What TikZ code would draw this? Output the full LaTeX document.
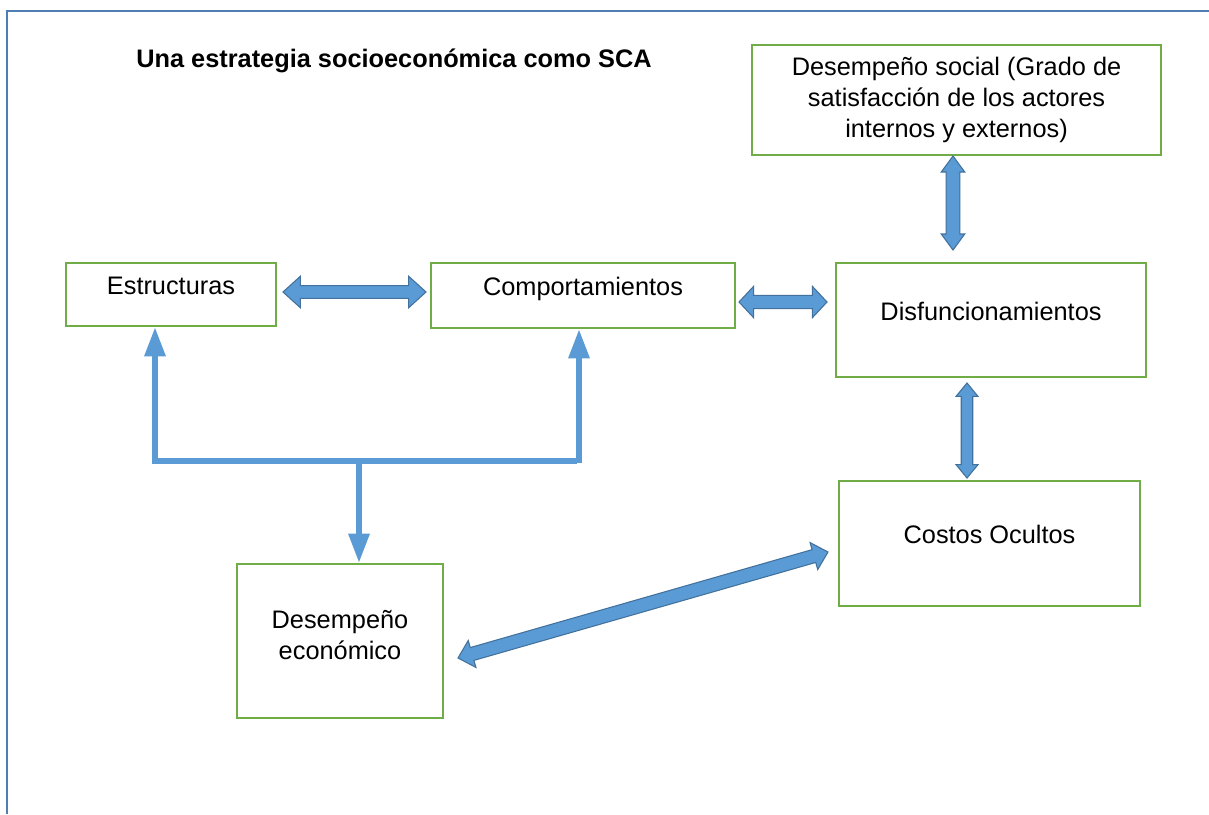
\documentclass[tikz,border=0pt]{standalone}
\usepackage{fontspec}
\setmainfont{Liberation Sans}
\usetikzlibrary{calc,arrows.meta}
\definecolor{framec}{HTML}{4F7EB3}
\definecolor{boxc}{HTML}{70AD47}
\definecolor{arrfill}{HTML}{5B9BD5}
\definecolor{arrline}{HTML}{41719C}
\tikzset{
  box/.style={draw=boxc, line width=1.5pt, fill=white, align=center, inner sep=0pt,
    font=\fontsize{19pt}{23.25pt}\selectfont},
  onebox/.style={box, text height=0pt, text depth=0pt},
  blockarr/.style={fill=arrfill, draw=arrline, line width=0.8pt, line join=miter},
  linkline/.style={draw=arrfill, line width=4.5pt},
  linkarrow/.style={linkline, -{Triangle[length=22pt,width=15pt]}},
  framestyle/.style={draw=framec, line width=1.6pt},
}
% #1 from, #2 to, #3 shaft half width, #4 head half width, #5 head length
\newcommand\blockarrow[5]{%
  \filldraw[blockarr] (#1)
   -- ($($(#1)!#5!(#2)$)!#4!90:(#2)$)
   -- ($($(#1)!#5!(#2)$)!#3!90:(#2)$)
   -- ($($(#2)!#5!(#1)$)!#3!-90:(#1)$)
   -- ($($(#2)!#5!(#1)$)!#4!-90:(#1)$)
   -- (#2)
   -- ($($(#2)!#5!(#1)$)!#4!90:(#1)$)
   -- ($($(#2)!#5!(#1)$)!#3!90:(#1)$)
   -- ($($(#1)!#5!(#2)$)!#3!-90:(#2)$)
   -- ($($(#1)!#5!(#2)$)!#4!-90:(#2)$)
   -- cycle;}
\begin{document}
\begin{tikzpicture}[x=0.75pt,y=-0.75pt]
\useasboundingbox (0,0) rectangle (1209,814);
\fill[white] (0,0) rectangle (1209,814);
% frame
\coordinate (fbl) at (7,814);
\coordinate (ftl) at (7,11);
\coordinate (ftr) at (1209,11);
\draw[framestyle] (fbl) -- (ftl) -- (ftr);
% title
\node[font=\fontsize{19pt}{23pt}\selectfont\bfseries] (title) at (394,61) {Una estrategia socioeconómica como SCA};
% boxes
\node[onebox, minimum width=157.5pt, minimum height=47.25pt] (est) at (171,294.5) {Estructuras};
\node[onebox, minimum width=228pt, minimum height=48.75pt] (comp) at (583,295.5) {Comportamientos};
\node[onebox, minimum width=232.5pt, minimum height=85.5pt] (disf) at (991,320) {Disfuncionamientos};
\node[box, minimum width=306.75pt, minimum height=82.5pt] (soc) at (956.5,100) {Desempeño social (Grado de\\satisfacción de los actores\\internos y externos)};
\node[onebox, minimum width=225.75pt, minimum height=93.75pt] (cost) at (989.5,543.5) {Costos Ocultos};
\node[box, minimum width=154.5pt, minimum height=115.5pt, text depth=9pt] (econ) at (340,641) {Desempeño\\económico};
% block arrows
\coordinate (a1s) at (283,292); \coordinate (a1e) at (426,292);
\coordinate (a2s) at (739,302); \coordinate (a2e) at (827,302);
\coordinate (a3s) at (953,156); \coordinate (a3e) at (953,250);
\coordinate (a4s) at (967,383); \coordinate (a4e) at (967,478);
\coordinate (a5s) at (458,658); \coordinate (a5e) at (828,552);
\blockarrow{a1s}{a1e}{4.8pt}{11.8pt}{13pt}
\blockarrow{a2s}{a2e}{5pt}{11.8pt}{11pt}
\blockarrow{a3s}{a3e}{5.2pt}{8.8pt}{12pt}
\blockarrow{a4s}{a4e}{4.3pt}{8.2pt}{10pt}
\blockarrow{a5s}{a5e}{5pt}{10.5pt}{11pt}
% link lines
\coordinate (jl) at (155,461);
\coordinate (jr) at (574,461);
\coordinate (jm) at (359,461);
\coordinate (rb) at (579,463);
\draw[linkline, line cap=rect] (jr) -- (jl);
\draw[linkarrow] ([yshift=-1.7pt]jl) -- (est.south -| jl);
\draw[linkarrow] (rb) -- (comp.south -| rb);
\draw[linkarrow] (jm) -- (econ.north -| jm);
\end{tikzpicture}
\end{document}
